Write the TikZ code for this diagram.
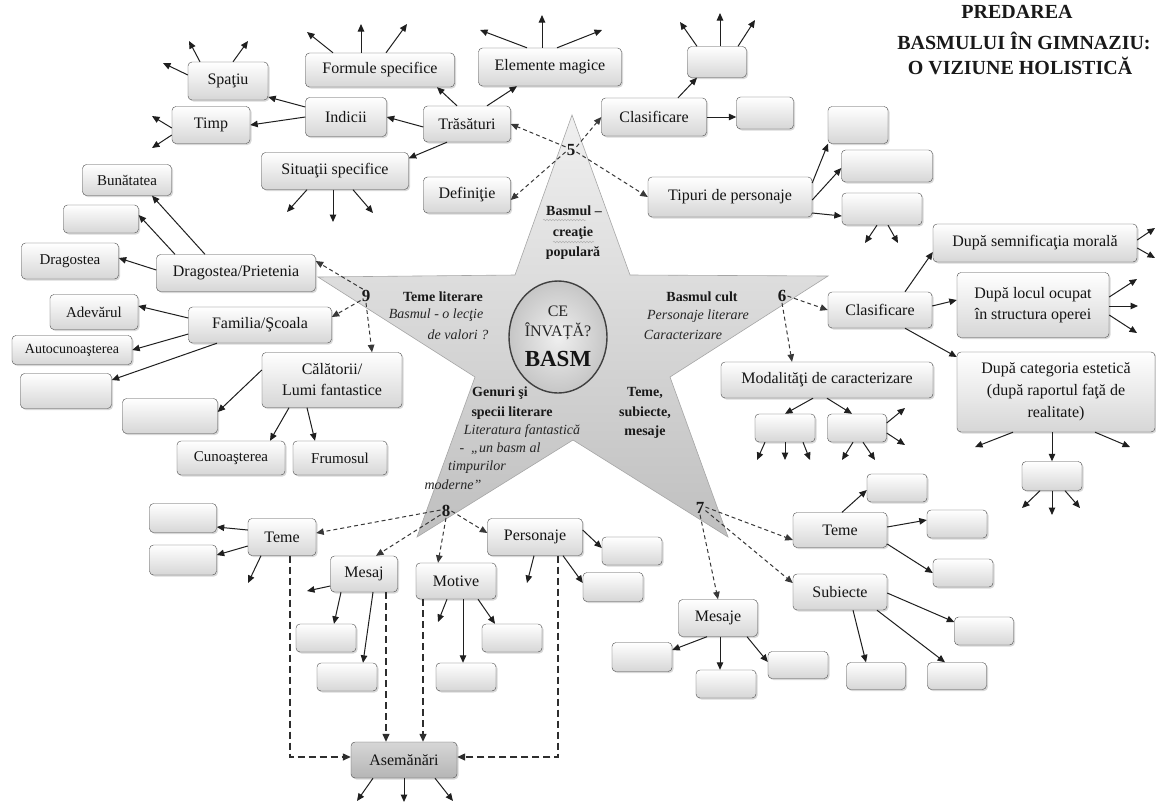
\documentclass[tikz,border=0pt]{standalone}
\usepackage{fontspec}
\setmainfont{Liberation Serif}
\usetikzlibrary{arrows.meta,shadows,shapes.geometric,decorations.pathmorphing}
\tikzset{
  box/.style={draw=gray!60!black, rounded corners=4pt, top color=white, bottom color=gray!32,
    drop shadow={shadow xshift=1.5pt, shadow yshift=-1.5pt, opacity=0.3},
    align=center, inner sep=1pt, text=black!92, font=\fontsize{16}{21}\selectfont},
  bx/.style 2 args={box, minimum width=#1pt, minimum height=#2pt},
  smallf/.style={font=\fontsize{15}{18}\selectfont},
  arr/.style={draw=black!88, line width=1pt, -{Triangle[length=7.5pt,width=6.5pt]}},
  darr/.style={draw=black!78, line width=1pt, dash pattern=on 4pt off 3pt, -{Triangle[length=7.5pt,width=6.5pt]}},
  ddarr/.style={draw=black!82, line width=1.3pt, dash pattern=on 7pt off 4pt, -{Triangle[length=8pt,width=7pt]}},
  lbl/.style={inner sep=0pt, text=black!90, font=\fontsize{14}{17}\selectfont\bfseries},
  ilbl/.style={inner sep=0pt, text=black!85, font=\fontsize{14}{17}\selectfont\itshape},
  num/.style={inner sep=1pt, text=black!90, font=\fontsize{17}{20}\selectfont\bfseries},
  ttl/.style={inner sep=0pt, text=black!90, font=\fontsize{20}{24}\selectfont\bfseries},
  squig/.style={draw=gray!60, line width=0.5pt, decorate, decoration={snake, segment length=3pt, amplitude=0.8pt}},
}
\begin{document}
\begin{tikzpicture}[x=1pt,y=-1pt]
\useasboundingbox[fill=white] (0,0) rectangle (1156,804);

% ---------- title ----------
\node[ttl] (t1) at (1017,12) {PREDAREA};
\node[ttl] (t2) at (1024,41) {BASMULUI ÎN GIMNAZIU:};
\node[ttl] (t3) at (1020,66) {O VIZIUNE HOLISTICĂ};

% ---------- star ----------
\shadedraw[top color=gray!12, bottom color=gray!50, draw=gray!70, line width=0.6pt]
  (572,115) -- (630,275) -- (828,276) -- (670,377) -- (728,537) -- (573,440)
  -- (417,537) -- (475,377) -- (318,277) -- (515,275) -- cycle;
\node[ellipse, minimum width=98pt, minimum height=112pt, inner color=gray!12, outer color=gray!45,
  draw=gray!50!black, line width=1.4pt] (circ) at (558,337) {};
\node[inner sep=0pt, text=black!85, font=\fontsize{16}{18}\selectfont] (ce) at (558,311) {CE};
\node[inner sep=0pt, text=black!85, font=\fontsize{16}{18}\selectfont] (inv) at (558,331) {ÎNVAȚĂ?};
\node[inner sep=0pt, text=black!92, font=\fontsize{23}{26}\selectfont\bfseries] (basm) at (558,359) {BASM};

\node[lbl] (b1) at (574,211) {Basmul –};
\node[lbl] (b2) at (573,233) {creaţie};
\node[lbl] (b3) at (573,253) {populară};
\coordinate (w1a) at (543,220); \coordinate (w1b) at (586,220);
\coordinate (w2a) at (553,242); \coordinate (w2b) at (594,242);
\draw[squig] (w1a) -- (w1b);
\draw[squig] (w2a) -- (w2b);

\node[lbl] (tl1) at (443,297) {Teme literare};
\node[ilbl] (tl2) at (436,315) {Basmul - o lecţie};
\node[ilbl] (tl3) at (458,335) {de valori ?};

\node[lbl] (bc1) at (702,297) {Basmul cult};
\node[ilbl] (bc2) at (698,316) {Personaje literare};
\node[ilbl] (bc3) at (683,335) {Caracterizare};

\node[lbl] (g1) at (500,393) {Genuri şi};
\node[lbl] (g2) at (512,413) {specii literare};
\node[ilbl] (g3) at (522,431) {Literatura fantastică};
\node[ilbl] (g4) at (500,449) {-\enspace„un basm al};
\node[ilbl] (g5) at (477,467) {timpurilor};
\node[ilbl] (g6) at (453,485) {moderne”};

\node[lbl] (ts1) at (645,393) {Teme,};
\node[lbl] (ts2) at (645,413) {subiecte,};
\node[lbl] (ts3) at (645,432) {mesaje};

\node[num] (n5) at (571,150) {5};
\node[num] (n6) at (782,296) {6};
\node[num] (n7) at (700,508) {7};
\node[num] (n8) at (446,511) {8};
\node[num] (n9) at (366,296) {9};

% ---------- boxes: top ----------
\node[bx={80}{38}] (spatiu) at (228,81) {Spaţiu};
\node[bx={78}{37}] (timp) at (211,125) {Timp};
\node[bx={81}{39}] (indicii) at (346,117) {Indicii};
\node[bx={149}{34}] (formule) at (380,70) {Formule specifice};
\node[bx={147}{37}] (situatii) at (335,171) {Situaţii specifice};
\node[bx={143}{38}] (elemente) at (550,67) {Elemente magice};
\node[bx={87}{36}] (trasaturi) at (467,124) {Trăsături};
\node[bx={87}{36}] (definitie) at (467,195) {Definiţie};
\node[bx={105}{38}] (clasA) at (654,117) {Clasificare};
\node[bx={59}{31}] (bA1) at (717,62) {};
\node[bx={57}{32}] (bA2) at (765,113) {};
\node[bx={164}{40}] (tipuri) at (730,197) {Tipuri de personaje};
\node[bx={60}{37}] (bT1) at (858,125) {};
\node[bx={91}{32}] (bT2) at (887,166) {};
\node[bx={80}{32}] (bT3) at (882,209) {};

% ---------- boxes: left ----------
\node[bx={89}{31}, smallf] (bunat) at (127,180) {Bunătatea};
\node[bx={75}{28}] (bB) at (101,219) {};
\node[bx={97}{36}, smallf] (dragostea) at (70,261) {Dragostea};
\node[bx={159}{37}] (dp) at (236,273) {Dragostea/Prietenia};
\node[bx={88}{35}, smallf] (adev) at (94,312) {Adevărul};
\node[bx={143}{36}] (fam) at (260,325) {Familia/Şcoala};
\node[bx={120}{29}, font=\fontsize{14}{17}\selectfont] (autoc) at (72,350) {Autocunoaşterea};
\node[bx={91}{35}] (bF) at (66,391) {};
\node[bx={140}{55}] (calat) at (332,380) {Călătorii/\\Lumi fantastice};
\node[bx={95}{35}] (bC) at (170,416) {};
\node[bx={108}{34}, smallf] (cunoast) at (231,458) {Cunoaşterea};
\node[bx={94}{34}, smallf] (frum) at (340,458) {Frumosul};

% ---------- boxes: right ----------
\node[bx={104}{36}] (clasB) at (880,310) {Clasificare};
\node[bx={204}{38}] (semn) at (1035,243) {După semnificaţia morală};
\node[bx={152}{65}] (locul) at (1033,305) {După locul ocupat\\în structura operei};
\node[bx={198}{80}, font=\fontsize{16}{22}\selectfont] (categ) at (1056,392) {După categoria estetică\\(după raportul faţă de\\realitate)};
\node[bx={212}{36}] (modal) at (827,380) {Modalităţi de caracterizare};
\node[bx={60}{28}] (bM1) at (785,428) {};
\node[bx={59}{28}] (bM2) at (857,428) {};
\node[bx={60}{29}] (bCat) at (1052,476) {};

% ---------- boxes: bottom right ----------
\node[bx={94}{35}] (temeR) at (840,530) {Teme};
\node[bx={60}{28}] (bTR1) at (897,488) {};
\node[bx={60}{28}] (bTR2) at (957,524) {};
\node[bx={60}{28}] (bTR3) at (963,573) {};
\node[bx={94}{36}] (subiecte) at (840,592) {Subiecte};
\node[bx={59}{28}] (bS1) at (984,631) {};
\node[bx={59}{27}] (bS2) at (876,676) {};
\node[bx={59}{27}] (bS3) at (957,676) {};
\node[bx={79}{37}] (mesaje) at (718,618) {Mesaje};
\node[bx={60}{29}] (bMe1) at (642,657) {};
\node[bx={60}{28}] (bMe2) at (726,684) {};
\node[bx={60}{27}] (bMe3) at (798,665) {};

% ---------- boxes: bottom left ----------
\node[bx={68}{37}] (temeL) at (282,537) {Teme};
\node[bx={67}{29}] (bL1) at (183,518) {};
\node[bx={67}{30}] (bL2) at (183,560) {};
\node[bx={67}{36}] (mesaj) at (364,574) {Mesaj};
\node[bx={80}{36}] (motive) at (456,581) {Motive};
\node[bx={95}{37}] (person) at (535,537) {Personaje};
\node[bx={60}{28}] (bMs1) at (326,638) {};
\node[bx={60}{28}] (bMs2) at (347,677) {};
\node[bx={60}{28}] (bMo1) at (512,638) {};
\node[bx={60}{28}] (bMo2) at (466,677) {};
\node[bx={60}{28}] (bPe1) at (632,551) {};
\node[bx={60}{29}] (bPe2) at (613,587) {};
\node[bx={106}{36}, top color=gray!32, bottom color=gray!58] (asem) at (404,760) {Asemănări};

% ---------- free ends ----------
\coordinate (sp1) at (163,63); \coordinate (sp2) at (189,41); \coordinate (sp3) at (248,41);
\coordinate (ti1) at (152,116); \coordinate (ti2) at (152,148);
\coordinate (fo1) at (307,32); \coordinate (fo2) at (361,24); \coordinate (fo3) at (407,24);
\coordinate (el1) at (480,30); \coordinate (el2) at (542,15); \coordinate (el3) at (602,30);
\coordinate (si1) at (287,212); \coordinate (si2) at (333,222); \coordinate (si3) at (373,213);
\coordinate (a1) at (680,22); \coordinate (a2) at (720,13); \coordinate (a3) at (755,20);
\coordinate (t31) at (865,243); \coordinate (t32) at (898,243);
\coordinate (se1) at (1155,228); \coordinate (se2) at (1155,258);
\coordinate (lo1) at (1137,279); \coordinate (lo2) at (1138,306); \coordinate (lo3) at (1137,333);
\coordinate (ca1) at (975,447); \coordinate (ca2) at (1130,447);
\coordinate (bq1) at (1022,508); \coordinate (bq2) at (1052,515); \coordinate (bq3) at (1080,508);
\coordinate (m11) at (757,460); \coordinate (m12) at (785,460); \coordinate (m13) at (810,460);
\coordinate (m21) at (842,460); \coordinate (m22) at (875,460); \coordinate (m23) at (905,408); \coordinate (m24) at (905,445);
\coordinate (tlx) at (248,583);
\coordinate (ms0) at (307,591);
\coordinate (mo0) at (438,622);
\coordinate (pe0) at (527,583);
\coordinate (as1) at (357,801); \coordinate (as2) at (404,802); \coordinate (as3) at (453,801);

% ---------- dashed from star numbers ----------
\draw[darr] (n5.150) -- (trasaturi.east);
\draw[darr] (n5.200) -- ([yshift=-5pt]definitie.east);
\draw[darr] (n5.30) -- (clasA.west);
\draw[darr] (n5.-20) -- (tipuri.west);
\draw[darr] (n6.east) -- (clasB.west);
\draw[darr] (n6.south) -- ([xshift=-35pt]modal.north);
\draw[darr] (n7.10) -- ([yshift=-10pt]temeR.west);
\draw[darr] (n7.-25) -- ([yshift=9pt]subiecte.west);
\draw[darr] (n7.south) -- (mesaje.north);
\draw[darr] (n8.170) -- ([yshift=4pt]temeL.east);
\draw[darr] (n8.215) -- ([xshift=12pt]mesaj.north);
\draw[darr] (n8.south) -- ([xshift=-18pt]motive.north);
\draw[darr] (n8.east) -- ([yshift=4pt]person.west);
\draw[darr] (n9.115) -- ([yshift=12pt]dp.east);
\draw[darr] (n9.220) -- ([yshift=8pt]fam.east);
\draw[darr] (n9.south) -- ([xshift=40pt]calat.north);

% ---------- top-left cluster ----------
\draw[arr] ([yshift=10pt]indicii.west) -- ([yshift=-16pt]spatiu.east);
\draw[arr] (indicii.west) -- (timp.east);
\draw[arr] ([yshift=-3pt]trasaturi.west) -- (indicii.east);
\draw[arr] ([xshift=-10pt]trasaturi.north) -- ([xshift=57pt]formule.south);
\draw[arr] ([xshift=20pt]trasaturi.north) -- ([xshift=-33pt]elemente.south);
\draw[arr] ([xshift=-20pt]trasaturi.south) -- ([yshift=-6pt]situatii.north east);
\draw[arr] ([yshift=6pt]spatiu.west) -- (sp1);
\draw[arr] ([xshift=-28pt]spatiu.north) -- (sp2);
\draw[arr] ([xshift=5pt]spatiu.north) -- (sp3);
\draw[arr] ([yshift=-3pt]timp.west) -- (ti1);
\draw[arr] ([yshift=-10pt]timp.west) -- (ti2);
\draw[arr] ([xshift=-47pt]formule.north) -- (fo1);
\draw[arr] ([xshift=-19pt]formule.north) -- (fo2);
\draw[arr] ([xshift=6pt]formule.north) -- (fo3);
\draw[arr] ([xshift=-23pt]elemente.north) -- (el1);
\draw[arr] ([xshift=-8pt]elemente.north) -- (el2);
\draw[arr] ([xshift=7pt]elemente.north) -- (el3);
\draw[arr] ([xshift=-28pt]situatii.south) -- (si1);
\draw[arr] ([xshift=-2pt]situatii.south) -- (si2);
\draw[arr] ([xshift=18pt]situatii.south) -- (si3);

% ---------- top-right cluster ----------
\draw[arr] ([xshift=24pt]clasA.north) -- ([xshift=-20pt]bA1.south);
\draw[arr] (clasA.east) -- ([yshift=-4pt]bA2.west);
\draw[arr] ([xshift=-20pt]bA1.north) -- (a1);
\draw[arr] ([xshift=3pt]bA1.north) -- (a2);
\draw[arr] ([xshift=21pt]bA1.north) -- (a3);
\draw[arr] ([yshift=14pt]tipuri.east) -- ([xshift=-30pt]bT1.south);
\draw[arr] ([yshift=-3pt]tipuri.east) -- ([yshift=-2pt]bT2.west);
\draw[arr] ([yshift=-16pt]tipuri.east) -- ([yshift=-7pt]bT3.west);
\draw[arr] ([xshift=-5pt]bT3.south) -- (t31);
\draw[arr] ([xshift=6pt]bT3.south) -- (t32);

% ---------- left cluster ----------
\draw[arr] ([yshift=3pt]dp.west) -- ([yshift=3pt]dragostea.east);
\draw[arr] ([xshift=-31pt]dp.north) -- ([xshift=25pt]bunat.south);
\draw[arr] ([xshift=-61pt]dp.north) -- ([yshift=4pt]bB.east);
\draw[arr] ([yshift=7pt]fam.west) -- ([yshift=6pt]adev.east);
\draw[arr] ([yshift=-9pt]fam.west) -- (autoc.east);
\draw[arr] ([xshift=-43pt]fam.south) -- ([yshift=11pt]bF.east);
\draw[arr] ([yshift=10pt]calat.west) -- ([yshift=4pt]bC.east);
\draw[arr] ([xshift=-43pt]calat.south) -- ([xshift=39pt]cunoast.north);
\draw[arr] ([xshift=-25pt]calat.south) -- ([xshift=-25pt]frum.north);

% ---------- right cluster ----------
\draw[arr] ([xshift=25pt]clasB.north) -- ([yshift=-9pt]semn.west);
\draw[arr] ([yshift=4pt]clasB.east) -- ([yshift=5pt]locul.west);
\draw[arr] ([xshift=25pt]clasB.south) -- ([yshift=35pt]categ.west);
\draw[arr] ([yshift=3pt]semn.east) -- (se1);
\draw[arr] ([yshift=-5pt]semn.east) -- (se2);
\draw[arr] ([yshift=8pt]locul.east) -- (lo1);
\draw[arr] ([yshift=-1pt]locul.east) -- (lo2);
\draw[arr] ([yshift=-10pt]locul.east) -- (lo3);
\draw[arr] ([xshift=-43pt]categ.south) -- (ca1);
\draw[arr] ([xshift=-4pt]categ.south) -- (bCat.north);
\draw[arr] ([xshift=39pt]categ.south) -- (ca2);
\draw[arr] ([xshift=-12pt]bCat.south) -- (bq1);
\draw[arr] (bCat.south) -- (bq2);
\draw[arr] ([xshift=13pt]bCat.south) -- (bq3);
\draw[arr] ([xshift=-14pt]modal.south) -- (bM1.north);
\draw[arr] (modal.south) -- ([xshift=-5pt]bM2.north);
\draw[arr] ([xshift=-20pt]bM1.south) -- (m11);
\draw[arr] (bM1.south) -- (m12);
\draw[arr] ([xshift=18pt]bM1.south) -- (m13);
\draw[arr] ([xshift=-4pt]bM2.south) -- (m21);
\draw[arr] ([xshift=6pt]bM2.south) -- (m22);
\draw[arr] ([yshift=5pt]bM2.east) -- (m23);
\draw[arr] ([yshift=-5pt]bM2.east) -- (m24);

% ---------- bottom right ----------
\draw[arr] ([xshift=2pt]temeR.north) -- ([yshift=-2pt]bTR1.west);
\draw[arr] ([yshift=3pt]temeR.east) -- ([yshift=4pt]bTR2.west);
\draw[arr] ([yshift=-14pt]temeR.east) -- (bTR3.west);
\draw[arr] ([yshift=-1pt]subiecte.east) -- ([yshift=9pt]bS1.west);
\draw[arr] ([xshift=13pt]subiecte.south) -- ([xshift=-10pt]bS2.north);
\draw[arr] ([xshift=37pt]subiecte.south) -- ([xshift=-12pt]bS3.north);
\draw[arr] ([xshift=-11pt]mesaje.south) -- ([yshift=7pt]bMe1.east);
\draw[arr] ([xshift=2pt]mesaje.south) -- ([xshift=-6pt]bMe2.north);
\draw[arr] ([xshift=29pt]mesaje.south) -- ([yshift=3pt]bMe3.west);

% ---------- bottom left ----------
\draw[arr] ([yshift=7pt]temeL.west) -- ([yshift=-9pt]bL1.east);
\draw[arr] ([yshift=-9pt]temeL.west) -- ([yshift=5pt]bL2.east);
\draw[arr] ([xshift=-21pt]temeL.south) -- (tlx);
\draw[arr] ([yshift=-12pt]mesaj.west) -- (ms0);
\draw[arr] ([xshift=-23pt]mesaj.south) -- ([xshift=8pt]bMs1.north);
\draw[arr] ([xshift=9pt]mesaj.south) -- ([xshift=16pt]bMs2.north);
\draw[arr] ([xshift=-9pt]motive.south) -- (mo0);
\draw[arr] ([xshift=7pt]motive.south) -- ([xshift=-3pt]bMo2.north);
\draw[arr] ([xshift=22pt]motive.south) -- ([xshift=-17pt]bMo1.north);
\draw[arr] ([xshift=-1pt]person.south) -- (pe0);
\draw[arr] ([xshift=28pt]person.south) -- ([yshift=4pt]bPe2.west);
\draw[arr] ([yshift=7pt]person.east) -- ([yshift=3pt]bPe1.west);

\draw[ddarr] ([xshift=8pt]temeL.south) |- ([yshift=3pt]asem.west);
\draw[ddarr] ([xshift=23pt]person.south) |- ([yshift=3pt]asem.east);
\draw[ddarr] ([xshift=22pt]mesaj.south) -- ([xshift=22pt]mesaj.south |- asem.north);
\draw[ddarr] ([xshift=-33pt]motive.south) -- ([xshift=-33pt]motive.south |- asem.north);

\draw[arr] ([xshift=-31pt]asem.south) -- (as1);
\draw[arr] (asem.south) -- (as2);
\draw[arr] ([xshift=31pt]asem.south) -- (as3);
\end{tikzpicture}
\end{document}
